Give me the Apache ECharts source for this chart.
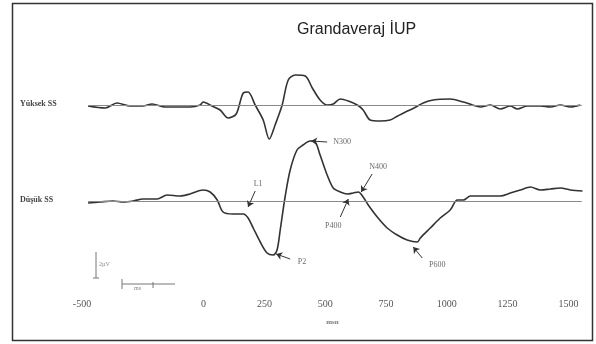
<!DOCTYPE html>
<html>
<head>
<meta charset="utf-8">
<script src="https://cdn.jsdelivr.net/npm/echarts@6/dist/echarts.min.js"></script>
<style>
  html, body { margin: 0; padding: 0; background: #fff; }
  #chart { width: 596px; height: 344px; }
</style>
</head>
<body>
<div id="chart"></div>
<script>
// time in ms, amplitude in arbitrary units (positive up)
const highTime = [-475, -405, -356, -302, -250, -212, -158, -56, -14, -2, 35, 68, 101, 134, 163, 183, 212, 245, 270, 294, 323, 348, 377, 418, 447, 479, 508, 533, 562, 595, 632, 656, 685, 726, 767, 798, 830, 865, 903, 944, 1014, 1068, 1105, 1138, 1179, 1220, 1261, 1290, 1331, 1385, 1426, 1467, 1508, 1549];
const highAmp  = [-1, -3, 2, -1, -1, 1, -2, -2, 0, 3, -1, -5, -13, -9, 12, 13, 0, -15, -34, -20, 0, 25, 30, 29, 17, 5, 0, 1, 6, 4, 0, -5, -15, -16, -15, -11, -7, -3, 2, 5, 6, 3, 0, -2, 0, -4, -1, -4, -1, -1, -2, 0, -2, 0];

const lowTime = [-475, -426, -372, -331, -290, -249, -191, -150, -97, -56, -2, 27, 56, 80, 121, 163, 183, 204, 233, 261, 286, 302, 315, 335, 356, 384, 409, 438, 459, 479, 508, 533, 562, 591, 615, 636, 656, 677, 714, 755, 796, 837, 879, 891, 932, 973, 1014, 1043, 1068, 1097, 1150, 1220, 1261, 1302, 1344, 1385, 1426, 1467, 1508, 1558];
const lowAmp  = [-2, -1, 0, -1, 0, 2, 2, 6, 5, 7, 11, 9, 1, -11, -13, -13, -17, -27, -41, -52, -54, -49, -29, 4, 31, 51, 56, 60, 59, 46, 26, 13, 9, 7, 8, 9, 4, -4, -16, -27, -34, -39, -41, -37, -27, -17, -9, 1, 1, 5, 5, 5, 8, 11, 14, 11, 12, 13, 11, 10];

const xTicks = [-500, 0, 250, 500, 750, 1000, 1250, 1500];

// component labels on the low trace: text position, arrow start, arrow tip
const peakNames = ['L1', 'P2', 'N300', 'P400', 'N400', 'P600'];
const peakText  = [[224, 17], [405, -61], [570, 59], [533, -25], [718, 34], [961, -64]];
const arrowFrom = [[212, 10], [356, -58], [508, 59], [562, -16], [693, 27], [899, -57]];
const arrowTo   = [[183, -6], [298, -53], [442, 60], [595, 2], [648, 9], [862, -46]];

const zip = (a, b) => a.map((v, i) => [v, b[i]]);

const chart = echarts.init(document.getElementById('chart'));

const xBase = {
  type: 'value',
  min: -500,
  max: 1560,
  interval: 250,
  splitLine: { show: false },
  axisLine: { show: false },
  axisTick: { show: false }
};
const baseItem = () => [
  { coord: [-475, 0], symbol: 'none', lineStyle: { color: '#8a8a8a', width: 1 } },
  { coord: [1555, 0], symbol: 'none' }
];
const traceStyle = { color: '#333', width: 1.6 };
const serif = '"Liberation Serif", "DejaVu Serif", serif';

chart.setOption({
  animation: false,
  title: {
    text: 'Grandaveraj İUP',
    left: 292,
    top: 17,
    textStyle: { fontFamily: '"Liberation Sans", Arial, sans-serif', fontSize: 16, fontWeight: 'normal', color: '#222' }
  },
  grid: [
    { left: 82, right: 13, top: 55, height: 100 },
    { left: 82, right: 13, top: 121, height: 160 }
  ],
  xAxis: [
    Object.assign({ gridIndex: 0, axisLabel: { show: false } }, xBase),
    Object.assign({
      gridIndex: 1,
      name: 'msn',
      nameLocation: 'middle',
      nameGap: 38,
      nameTextStyle: { fontFamily: serif, fontSize: 7, fontWeight: 'bold', color: '#777' },
      axisLabel: {
        margin: 18,
        fontFamily: serif,
        fontSize: 10,
        color: '#555',
        formatter: v => String(v),
        customValues: xTicks
      }
    }, xBase)
  ],
  yAxis: [
    { type: 'value', gridIndex: 0, min: -50, max: 50, show: false },
    { type: 'value', gridIndex: 1, min: -80, max: 80, show: false }
  ],
  series: [
    {
      name: 'Yüksek SS',
      type: 'line',
      xAxisIndex: 0,
      yAxisIndex: 0,
      data: zip(highTime, highAmp),
      smooth: 0.3,
      showSymbol: false,
      lineStyle: traceStyle,
      markLine: {
        silent: true,
        symbol: 'none',
        label: { show: false },
        lineStyle: { color: '#8a8a8a', width: 1, type: 'solid' },
        data: [baseItem()]
      }
    },
    {
      name: 'Düşük SS',
      type: 'line',
      xAxisIndex: 1,
      yAxisIndex: 1,
      data: zip(lowTime, lowAmp),
      smooth: 0.3,
      showSymbol: false,
      lineStyle: traceStyle,
      markLine: {
        silent: true,
        symbol: ['none', 'arrow'],
        symbolSize: 6,
        label: { show: false },
        lineStyle: { color: '#333', width: 1, type: 'solid' },
        data: [baseItem()].concat(peakNames.map((n, i) => [
          { coord: arrowFrom[i] },
          { coord: arrowTo[i] }
        ]))
      }
    },
    {
      name: 'labels',
      type: 'scatter',
      xAxisIndex: 1,
      yAxisIndex: 1,
      symbolSize: 0,
      silent: true,
      data: peakNames.map((n, i) => ({ value: peakText[i], name: n })),
      label: {
        show: true,
        position: 'inside',
        formatter: p => p.name,
        fontFamily: serif,
        fontSize: 8,
        color: '#444'
      }
    }
  ],
  graphic: [
    { type: 'rect', shape: { x: 12.5, y: 3.5, width: 580, height: 337 }, style: { fill: 'none', stroke: '#333', lineWidth: 1.5 }, silent: true },
    { type: 'text', left: 20, top: 100, style: { text: 'Yüksek SS', font: 'bold 8px ' + serif, fill: '#444' } },
    { type: 'text', left: 20, top: 196, style: { text: 'Düşük SS', font: 'bold 8px ' + serif, fill: '#444' } },
    // scale bars
    { type: 'line', shape: { x1: 96, y1: 252, x2: 96, y2: 278 }, style: { stroke: '#777', lineWidth: 1 } },
    { type: 'line', shape: { x1: 93, y1: 278, x2: 99, y2: 278 }, style: { stroke: '#777', lineWidth: 1 } },
    { type: 'text', left: 99, top: 261, style: { text: '2µV', font: '6px ' + serif, fill: '#888' } },
    { type: 'line', shape: { x1: 122, y1: 284, x2: 175, y2: 284 }, style: { stroke: '#777', lineWidth: 1 } },
    { type: 'line', shape: { x1: 122, y1: 279, x2: 122, y2: 289 }, style: { stroke: '#777', lineWidth: 1 } },
    { type: 'line', shape: { x1: 153, y1: 282, x2: 153, y2: 288 }, style: { stroke: '#777', lineWidth: 1 } },
    { type: 'text', left: 134, top: 285, style: { text: 'ms', font: '6px ' + serif, fill: '#888' } }
  ]
});
</script>
</body>
</html>
